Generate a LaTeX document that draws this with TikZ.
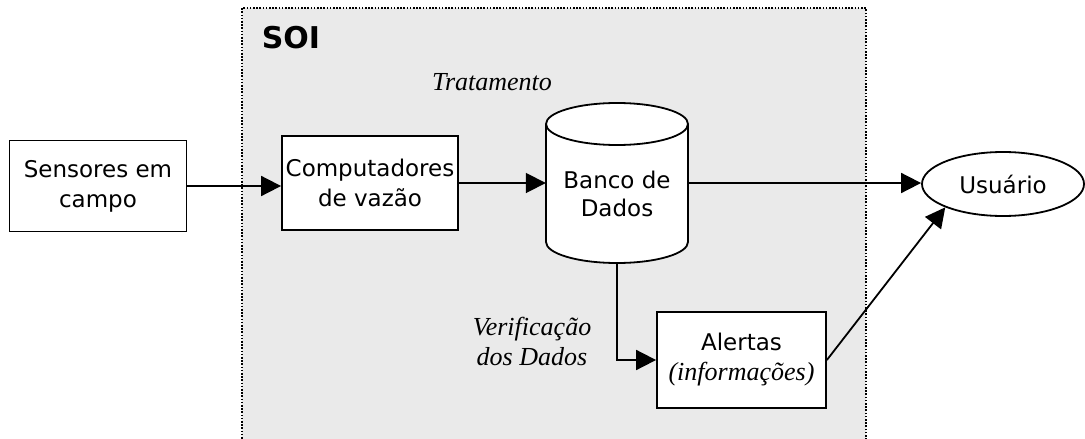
\documentclass[tikz,border=0pt]{standalone}
\usepackage{fontspec}
\setmainfont{DejaVu Sans}
\newfontfamily\labelfont{Liberation Serif}
\usetikzlibrary{arrows.meta,shapes.geometric}

\definecolor{soigray}{HTML}{EAEAEA}

\begin{document}
\begin{tikzpicture}[x=1pt,y=-1pt,
    >={Triangle[length=20pt,width=20pt]},
    box/.style={draw=black,line width=1.8pt,fill=white,align=center,
        inner sep=0pt,font=\fontsize{23}{30}\selectfont},
    lbl/.style={align=center,inner sep=0pt,
        font=\labelfont\itshape\fontsize{26}{30}\selectfont},
    flow/.style={->,line width=1.8pt}]

    \useasboundingbox (0,0) rectangle (1085,439);

    % The SOI area
    \fill[soigray] (242,8) rectangle (866,445);
    \draw[line width=1.6pt,dash pattern=on 1.6pt off 1.6pt] (242,445) -- (242,8) -- (866,8) -- (866,445);
    \node[font=\bfseries\fontsize{30}{34}\selectfont] (soi) at (291,38) {SOI};

    % Place the nodes
    \node[box,minimum width=177,minimum height=91] (sens) at (98,186) {Sensores em\\campo};
    \node[box,minimum width=176,minimum height=94] (comp) at (370,183) {Computadores\\de vazão};
    \node[align=center,inner sep=0pt,minimum width=142,minimum height=160,
        font=\fontsize{23}{28}\selectfont] (db) at (617,183) {};
    \node[box,minimum width=169,minimum height=96] (alert) at (741.5,360)
        {Alertas\\{\labelfont\itshape\fontsize{26}{30}\selectfont(informações)}};
    \node[box,ellipse,minimum width=162,minimum height=64] (user) at (1003,184) {Usuário};

    % The data base cylinder
    \draw[line width=1.8pt,fill=white] (546,124) -- (546,242)
        arc[start angle=180,end angle=360,x radius=71,y radius=-21]
        -- (688,124) arc[start angle=0,end angle=180,x radius=71,y radius=-21] -- cycle;
    \draw[line width=1.8pt] (546,124) arc[start angle=180,end angle=360,x radius=71,y radius=-21];
    \node[align=center,font=\fontsize{23}{28}\selectfont] (dbtext) at (617,194) {Banco de\\Dados};

    % Draw the lines
    \draw[flow] (sens.east) -- (sens.east -| comp.west);
    \draw[flow] (comp.east) -- (db.west |- comp.east);
    \draw[flow] (db.east) -- (db.east -| user.west);
    \draw[flow] (db.south) |- (alert.west);
    \draw[flow] (alert.east) -- (user.202);

    % Finally the labels
    \node[lbl] (trat) at (492,82) {Tratamento};
    \node[lbl] (verif) at (532,341) {Verificação\\dos Dados};

\end{tikzpicture}
\end{document}
